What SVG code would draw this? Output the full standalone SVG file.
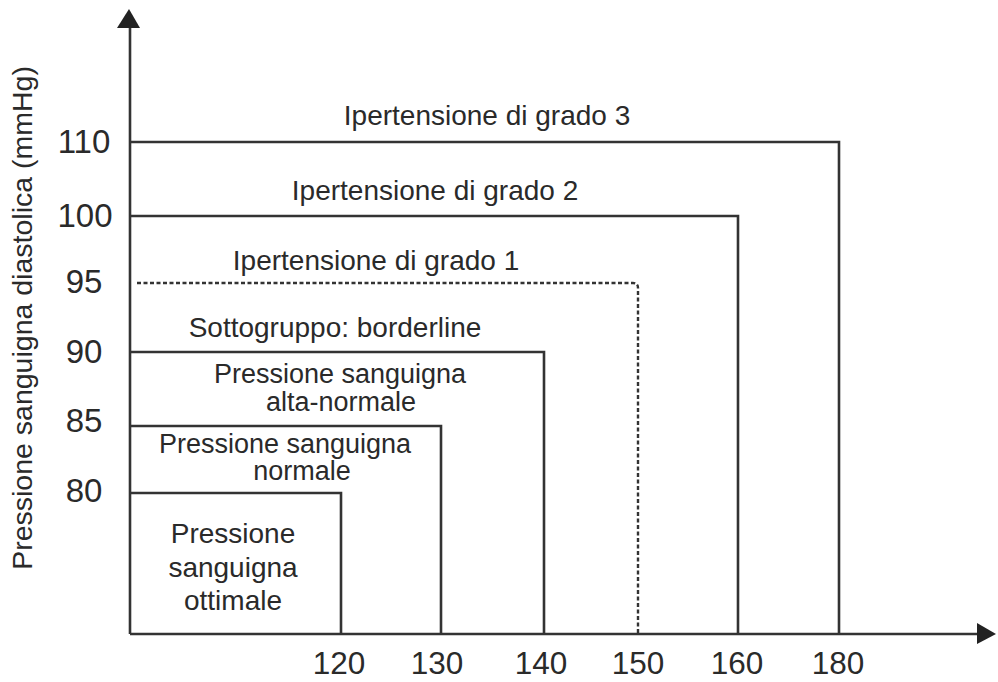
<svg xmlns="http://www.w3.org/2000/svg" width="998" height="682" viewBox="0 0 998 682">
<style>
text{font-family:"Liberation Sans",Arial,sans-serif;fill:#2a2a2a;text-anchor:middle}
.lbl{font-size:27.5px}
.num{font-size:33px}
.xnum{font-size:31.5px}
.ln{fill:none;stroke:#333;stroke-width:2.6}
.dot{fill:none;stroke:#333;stroke-width:2.4;stroke-dasharray:4 2.5}
</style>
<rect width="998" height="682" fill="#fff"/>
<g id="axes">
<path class="ln" d="M130,634 V26"/>
<path class="ln" d="M130,634 H979"/>
<polygon points="117,28 140,28 129,9" fill="#222"/>
<polygon points="977,623 977,644 996,634" fill="#222"/>
<text class="lbl" transform="translate(32,318) rotate(-90)" style="font-size:28.5px">Pressione sanguigna diastolica (mmHg)</text>
</g>
<g id="y-ticks">
<text x="84" y="153" class="num">110</text>
<text x="85" y="227" class="num">100</text>
<text x="84" y="293" class="num">95</text>
<text x="84" y="363" class="num">90</text>
<text x="84" y="432" class="num">85</text>
<text x="84" y="502" class="num">80</text>
</g>
<g id="x-ticks">
<text x="339" y="674" class="xnum">120</text>
<text x="437" y="674" class="xnum">130</text>
<text x="541" y="674" class="xnum">140</text>
<text x="638" y="674" class="xnum">150</text>
<text x="737" y="674" class="xnum">160</text>
<text x="838" y="674" class="xnum">180</text>
</g>
<g id="connectors">
<path class="ln" d="M131,142 H839 V634"/>
<path class="ln" d="M131,216 H738 V634"/>
<path class="dot" d="M137,283 H633 Q638,283 638,288 V634"/>
<path class="ln" d="M131,352 H544 V634"/>
<path class="ln" d="M131,426 H441 V634"/>
<path class="ln" d="M131,493 H341 V634"/>
</g>
<g id="grado3"><text class="lbl" x="487" y="125" style="font-size:28px">Ipertensione di grado 3</text></g>
<g id="grado2"><text class="lbl" x="435" y="200" style="font-size:28px">Ipertensione di grado 2</text></g>
<g id="grado1"><text class="lbl" x="376" y="270" style="font-size:28px">Ipertensione di grado 1</text></g>
<g id="borderline"><text class="lbl" x="335" y="337" style="font-size:28px">Sottogruppo: borderline</text></g>
<g id="alta-normale">
<text class="lbl" x="340" y="383" style="font-size:27px">Pressione sanguigna</text>
<text class="lbl" x="341" y="411" style="font-size:27px">alta-normale</text>
</g>
<g id="normale">
<text class="lbl" x="285" y="453" style="font-size:27px">Pressione sanguigna</text>
<text class="lbl" x="302" y="480" style="font-size:27px">normale</text>
</g>
<g id="ottimale">
<text class="lbl" x="233" y="543" style="font-size:28px">Pressione</text>
<text class="lbl" x="233" y="577" style="font-size:28px">sanguigna</text>
<text class="lbl" x="233" y="610" style="font-size:28px">ottimale</text>
</g>
</svg>
